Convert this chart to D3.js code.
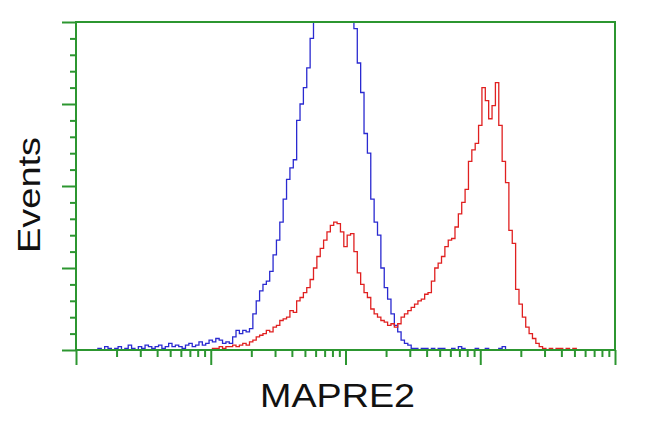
<!DOCTYPE html>
<html><head><meta charset="utf-8">
<script src="https://cdn.jsdelivr.net/npm/d3@7"></script>
<style>html,body{margin:0;padding:0;background:#fff;}svg{display:block;}</style>
</head><body>
<svg id="chart" width="650" height="432"></svg>
<script>
// bins: channel index i -> value 10^(i*binStep)
const binStep = 0.025;
const blueCounts = [0,0,0,0,0,0,0,
 1,0,2,1,0,1,2,0,1,3,1,0,2,1,3,2,1,2,3,1,2,4,2,3,2,1,3,4,2,3,5,3,4,
 6,5,7,6,4,5,4,8,12,10,12,11,13,22,30,36,40,42,48,58,67,78,92,104,111,116,
 140,150,160,172,190,203,212,220,226,230,232,230,228,225,220,212,203,196,175,157,
 132,120,92,78,70,50,38,31,22,15,11,6,4,3,1,
 1,0,1,1,0,1,0,1,1,0,0,1,0,2,1,0,0,0,1,0,0,1,0,0,0,1,2,0,0,0,0,
 0,0,0,0,0,0,0,0,0,0,0,0,0,0,0,0,0,0,0,0,0,0,0,0,0,0,0,0,0];
const redCounts = [0,0,0,0,0,0,0,0,0,0,0,0,0,0,0,0,0,0,0,0,0,0,0,0,0,0,0,0,0,0,0,0,0,0,0,0,0,0,0,0,0,
 1,1,2,1,2,2,3,2,3,4,3,5,6,8,9,10,12,11,14,15,18,19,20,24,23,30,32,35,38,43,
 50,57,62,67,72,76,78,77,72,63,70,71,60,47,40,35,32,25,22,20,18,17,15,16,14,16,
 20,22,24,26,28,30,31,34,35,42,50,53,57,63,67,68,75,83,90,98,115,122,126,137,
 160,152,141,149,163,137,115,102,73,65,37,28,20,14,10,7,4,2,1,
 0,1,0,1,1,0,1,0,1,0,0,0,0,0,0,0,0,0,0,0,0];
const xTickMajor = [1,10,100,1000,10000];
const yTickMajor = [0,50,100,150,200];
const xLabel = "MAPRE2";
const yLabel = "Events";

const svg = d3.select("#chart");
const L = 76, R = 615, T = 22, B = 350;
const x = d3.scaleLog().domain([1,10000]).range([L,R]);
const y = d3.scaleLinear().domain([0,200]).range([B,T]);
const green = "#2c9630";

const xMinor = [];
for (let d=1; d<10000; d*=10) for (let k=2;k<=9;k++) xMinor.push(d*k);
const yMinor = d3.range(0,201,10).filter(v=>v%50!==0);

svg.append("defs").append("clipPath").attr("id","clip")
  .append("rect").attr("x",L).attr("y",T+1).attr("width",R-L).attr("height",B-T+2);

const line = d3.line()
  .x((d,i)=>x(Math.pow(10,i*binStep)))
  .y(d=>y(d))
  .curve(d3.curveStep);

const g = svg.append("g").attr("clip-path","url(#clip)");
g.append("path").datum(blueCounts).attr("d",line)
  .attr("fill","none").attr("stroke","#2a2ad0").attr("stroke-width",1.3);
g.append("path").datum(redCounts).attr("d",line)
  .attr("fill","none").attr("stroke","#e02020").attr("stroke-width",1.3);

function styleAxis(sel){
  sel.selectAll("path.domain").remove();
  sel.selectAll("line").attr("stroke",green).attr("stroke-width",2);
  sel.selectAll("text").remove();
}
svg.append("g").attr("transform",`translate(0,${B})`)
  .call(d3.axisBottom(x).tickValues(xMinor).tickSize(7).tickFormat(""))
  .call(styleAxis);
svg.append("g").attr("transform",`translate(0,${B})`)
  .call(d3.axisBottom(x).tickValues(xTickMajor).tickSize(15).tickFormat(""))
  .call(styleAxis);
svg.append("g").attr("transform",`translate(${L},0)`)
  .call(d3.axisLeft(y).tickValues(yMinor).tickSize(6).tickFormat(""))
  .call(styleAxis);
svg.append("g").attr("transform",`translate(${L},0)`)
  .call(d3.axisLeft(y).tickValues(yTickMajor).tickSize(14).tickFormat(""))
  .call(styleAxis);

// frame
svg.append("rect").attr("x",L).attr("y",T).attr("width",R-L).attr("height",B-T)
  .attr("fill","none").attr("stroke",green).attr("stroke-width",2);

svg.append("text").attr("x",260).attr("y",407)
  .attr("font-family","Liberation Sans, Arial, sans-serif").attr("font-size",33)
  .attr("textLength",155).attr("lengthAdjust","spacingAndGlyphs")
  .attr("fill","#111").text(xLabel);
svg.append("text").attr("transform","translate(40,195) rotate(-90)")
  .attr("text-anchor","middle")
  .attr("font-family","Liberation Sans, Arial, sans-serif").attr("font-size",32)
  .attr("textLength",116).attr("lengthAdjust","spacingAndGlyphs")
  .attr("fill","#111").text(yLabel);
</script>
</body></html>
